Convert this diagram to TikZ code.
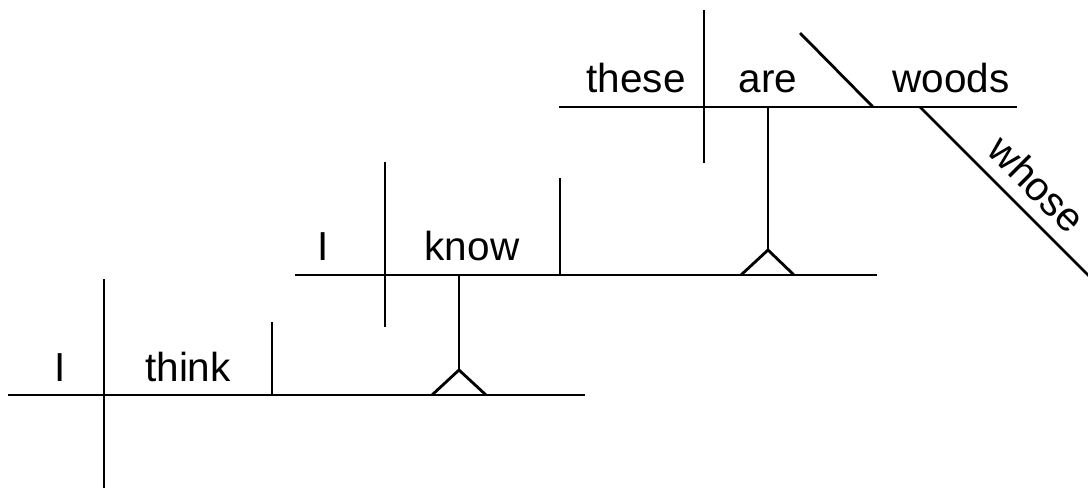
\documentclass[tikz,border=0pt]{standalone}
\usepackage{fontspec}
\setmainfont{Liberation Sans}
\usepackage{tikz}
\tikzset{
  word/.style={anchor=base,inner sep=0pt,font=\fontsize{28.8}{30}\selectfont},
  rule/.style={line width=2pt,line cap=butt}
}
\begin{document}
\begin{tikzpicture}[x=0.025cm,y=-0.025cm]
\useasboundingbox(0,0)rectangle(1088,489);
%main clause
\draw[rule](8,395)--(585,395);
\draw[rule](104,279)--(104,488);
\draw[rule](272,322)--(272,395);
\node[word](s1)at(60,381){I};
\node[word](v1)at(188,381){think};
%pedestal 1
\draw[rule](432,395)--(459,370)--(486,395);
\draw[rule](459,370)--(459,275);
%object clause
\draw[rule](295,275)--(877,275);
\draw[rule](385,162)--(385,327);
\draw[rule](560,178)--(560,275);
\node[word](s2)at(323,260){I};
\node[word](v2)at(472,260){know};
%pedestal 2
\draw[rule](741,275)--(768,250)--(794,275);
\draw[rule](768,250)--(768,107);
%inner clause
\draw[rule](559,107)--(1017,107);
\draw[rule](704,10)--(704,163);
\draw[rule](800,33)--(873,107);
\node[word](s3)at(636,92){these};
\node[word](v3)at(768,92){are};
\node[word](c3)at(951,92){woods};
%modifier
\draw[rule](920,107)--(1090,277);
\node[word,anchor=center,rotate=-45](m3)at(1037,184){whose};
\end{tikzpicture}
\end{document}
